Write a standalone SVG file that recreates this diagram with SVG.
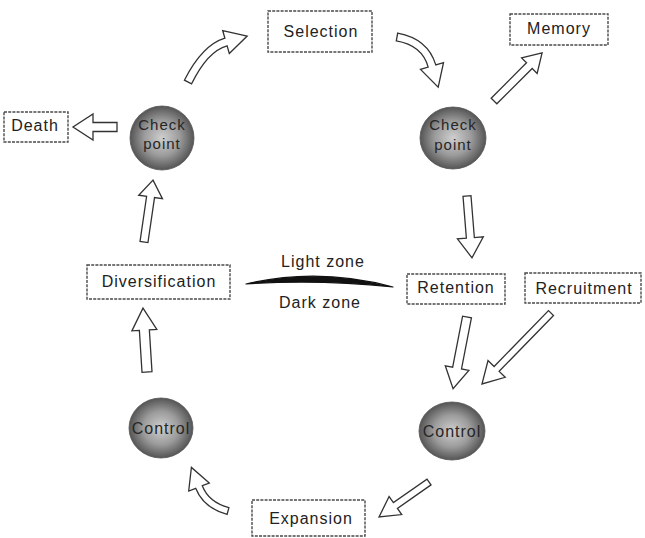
<svg xmlns="http://www.w3.org/2000/svg" width="645" height="538" viewBox="0 0 645 538">
<style>
  .box { fill: #fff; stroke: #4a4a4a; stroke-width: 1.4; stroke-dasharray: 3 1.2; }
  .lbl { font-family: "Liberation Sans", Arial, sans-serif; font-size: 16px; letter-spacing: 1px; fill: #222; text-anchor: middle; }
  .slbl { font-family: "Liberation Sans", Arial, sans-serif; font-size: 15px; letter-spacing: 1px; fill: #262626; text-anchor: middle; }
  .clbl { font-family: "Liberation Sans", Arial, sans-serif; font-size: 16px; letter-spacing: 1px; fill: #262626; text-anchor: middle; }
  .sphere { fill: url(#sg); stroke: #555; stroke-width: 0.8; }
  .arr { fill: #fff; stroke: #333; stroke-width: 1.3; stroke-linejoin: miter; }
</style>
<defs>
  <radialGradient id="sg" cx="50%" cy="50%" r="50%">
    <stop offset="0" stop-color="#cfcfcf"/>
    <stop offset="0.55" stop-color="#9c9c9c"/>
    <stop offset="1" stop-color="#555"/>
  </radialGradient>
</defs>

<rect width="645" height="538" fill="#fff"/>

<g id="connectors">
  <path class="arr" d="M184.4,80.2 Q202.4,44.9 224.9,38.2 L222.7,30.5 L247.2,36 L229.3,53.5 L227.1,45.8 Q207.6,51.1 191.6,83.8 Z"/>
  <path class="arr" d="M397.7,33.1 Q427.9,38.7 435.8,64.9 L443.5,62.6 L438.2,87.1 L420.5,69.4 L428.2,67.1 Q422.1,45.3 396.3,40.9 Z"/>
  <path class="arr" d="M227.1,514.4 Q203.4,507.9 195.7,488.3 L188.7,491 L191.4,467.4 L209.3,483 L202.3,485.7 Q208.6,502.1 228.9,507.6 Z"/>
  <polygon class="arr" transform="translate(117,127) rotate(180)" points="0,-4.5 24,-4.5 24,-13 44,0 24,13 24,4.5 0,4.5"/>
  <polygon class="arr" transform="translate(494,101) rotate(-45)" points="0,-4 50,-4 50,-11 68,0 50,11 50,4 0,4"/>
  <polygon class="arr" transform="translate(467,196) rotate(85.4)" points="0,-4 42,-4 42,-13 62,0 42,13 42,4 0,4"/>
  <polygon class="arr" transform="translate(144,242) rotate(-81.7)" points="0,-4 45.5,-4 45.5,-12 62.5,0 45.5,12 45.5,4 0,4"/>
  <polygon class="arr" transform="translate(147,372) rotate(-93.6)" points="0,-5 42,-5 42,-12.5 64,0 42,12.5 42,5 0,5"/>
  <polygon class="arr" transform="translate(467,317) rotate(101)" points="0,-4.5 52,-4.5 52,-12 73,0 52,12 52,4.5 0,4.5"/>
  <polygon class="arr" transform="translate(551,313) rotate(134.2)" points="0,-3.5 78,-3.5 78,-12 99,0 78,12 78,3.5 0,3.5"/>
  <polygon class="arr" transform="translate(429,482) rotate(145)" points="0,-3.5 41,-3.5 41,-11 61,0 41,11 41,3.5 0,3.5"/>
</g>

<g id="zone-divider">
  <path d="M246,284 Q318,267 393,287 Q318,279 246,284 Z" fill="#111" stroke="#111" stroke-width="1.2" stroke-linejoin="round"/>
  <text class="lbl" x="323" y="267">Light zone</text>
  <text class="lbl" x="320" y="308">Dark zone</text>
</g>

<g id="selection">
  <rect class="box" x="268" y="11" width="104" height="41"/>
  <text class="lbl" x="321" y="37">Selection</text>
</g>
<g id="memory">
  <rect class="box" x="510" y="14" width="98" height="31"/>
  <text class="lbl" x="559" y="34">Memory</text>
</g>
<g id="death">
  <rect class="box" x="4" y="112" width="64" height="30"/>
  <text class="lbl" x="35" y="131">Death</text>
</g>
<g id="checkpoint-left">
  <ellipse class="sphere" cx="162" cy="138" rx="32" ry="32"/>
  <text class="slbl" x="162" y="130">Check</text>
  <text class="slbl" x="162" y="149">point</text>
</g>
<g id="checkpoint-right">
  <ellipse class="sphere" cx="453" cy="138" rx="33" ry="31"/>
  <text class="slbl" x="453" y="130">Check</text>
  <text class="slbl" x="453" y="150">point</text>
</g>
<g id="diversification">
  <rect class="box" x="87" y="265" width="143" height="34"/>
  <text class="lbl" x="159" y="287">Diversification</text>
</g>
<g id="retention">
  <rect class="box" x="407" y="274" width="98" height="30"/>
  <text class="lbl" x="456" y="293">Retention</text>
</g>
<g id="recruitment">
  <rect class="box" x="525" y="273" width="116" height="30"/>
  <text class="lbl" x="584" y="294">Recruitment</text>
</g>
<g id="control-left">
  <ellipse class="sphere" cx="161" cy="428" rx="32" ry="30"/>
  <text class="clbl" x="161" y="434">Control</text>
</g>
<g id="control-right">
  <ellipse class="sphere" cx="452" cy="431" rx="33" ry="29"/>
  <text class="clbl" x="452" y="437">Control</text>
</g>
<g id="expansion">
  <rect class="box" x="252" y="500" width="113" height="36"/>
  <text class="lbl" x="311" y="524">Expansion</text>
</g>
</svg>
